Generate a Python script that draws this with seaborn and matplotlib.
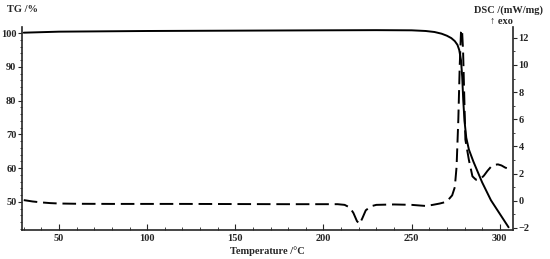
import numpy as np
import matplotlib
matplotlib.use('Agg')
import matplotlib.pyplot as plt
from matplotlib.ticker import MultipleLocator
import seaborn as sns

# TG curve (mass %)
tg_temp = [30, 50, 100, 150, 200, 230, 250, 258, 263, 267, 270, 272.5, 274.5, 276, 277,
           278, 278.7, 279.3, 280, 281, 282.5, 285, 290, 295, 300, 305]
tg_mass = [100.1, 100.4, 100.6, 100.7, 100.8, 100.85, 100.8, 100.6, 100.3, 99.8, 99.2, 98.5,
           97.6, 96.5, 95, 92, 87, 80, 74, 69, 65.5, 62, 55.8, 50.5, 46.5, 42.5]

# DSC curve (mW/mg)
dsc_temp = [30, 35, 40, 45, 50, 60, 80, 100, 120, 150, 180, 200, 208, 212, 215, 217, 219,
            220.5, 222, 224, 227, 230, 240, 250, 255, 258, 262, 266, 269, 271, 273, 274.5,
            275.5, 276.5, 277.3, 278, 278.6, 279.2, 279.8, 280.5, 282.5, 284.5, 286.5, 289,
            291, 293, 295, 297, 299, 301, 303, 304]
dsc_val = [0.05, -0.05, -0.12, -0.17, -0.2, -0.22, -0.23, -0.23, -0.23, -0.24, -0.25, -0.25,
           -0.25, -0.3, -0.5, -0.9, -1.5, -1.7, -1.3, -0.7, -0.4, -0.3, -0.27, -0.3, -0.35,
           -0.38, -0.3, -0.2, -0.1, 0.1, 0.4, 1.0, 2.5, 6, 10, 12.4, 12.6, 11, 8, 4.5, 3.0,
           1.8, 1.55, 1.6, 1.85, 2.2, 2.5, 2.65, 2.68, 2.6, 2.45, 2.4]

x_ticks = [50, 100, 150, 200, 250, 300]
tg_ticks = [50, 60, 70, 80, 90, 100]
dsc_ticks = [-2, 0, 2, 4, 6, 8, 10, 12]

sns.set_style('ticks')
plt.rcParams['font.family'] = ['Liberation Serif', 'DejaVu Serif']
plt.rcParams['font.weight'] = 'bold'

fig = plt.figure(figsize=(5.5, 2.59), dpi=100)
ax = fig.add_axes([0.04, 0.112, 0.8927, 0.784])
ax2 = ax.twinx()

sns.lineplot(x=tg_temp, y=tg_mass, ax=ax, color='black', linewidth=1.4)
sns.lineplot(x=dsc_temp, y=dsc_val, ax=ax2, color='black', linewidth=1.4, linestyle='--')
ax2.lines[0].set_dashes((7, 3))

ax.set_xlim(29, 307.5)
ax.set_ylim(41.7, 101.8)
ax2.set_ylim(-2.15, 12.8)

ax.set_xticks(x_ticks)
ax.set_yticks(tg_ticks)
ax2.set_yticks(dsc_ticks)
ax.xaxis.set_minor_locator(MultipleLocator(10))
ax.yaxis.set_minor_locator(MultipleLocator(2))
ax2.yaxis.set_minor_locator(MultipleLocator(1))

for a in (ax, ax2):
    a.spines['top'].set_visible(False)
    for s in a.spines.values():
        s.set_linewidth(1.2)
ax.spines['right'].set_visible(False)
ax2.spines['left'].set_visible(False)
ax2.spines['bottom'].set_visible(False)

ax.tick_params(axis='x', which='both', direction='in', labelsize=7.5, pad=3)
ax.tick_params(axis='x', which='major', length=4)
ax.tick_params(axis='x', which='minor', length=2)
ax.tick_params(axis='y', which='major', direction='out', length=3, labelsize=7.5, pad=1)
ax.tick_params(axis='y', which='minor', direction='out', length=1.5)
ax2.tick_params(axis='y', which='major', direction='out', length=3, labelsize=7.5, pad=1)
ax2.tick_params(axis='y', which='minor', direction='out', length=1.5)
for lab in ax.get_xticklabels() + ax.get_yticklabels() + ax2.get_yticklabels():
    lab.set_fontweight('bold')

ax.set_xlabel('Temperature /°C', fontsize=7.5, fontweight='bold', labelpad=2)
ax.set_ylabel('')
ax2.set_ylabel('')

fig.text(0.012, 0.965, 'TG /%', fontsize=7.5, fontweight='bold', ha='left', va='center')
fig.text(0.988, 0.962, 'DSC /(mW/mg)', fontsize=7.5, fontweight='bold', ha='right', va='center')
fig.text(0.932, 0.918, '↑ exo', fontsize=7.5, fontweight='bold', ha='right', va='center')

fig.savefig('out.png', dpi=100)
